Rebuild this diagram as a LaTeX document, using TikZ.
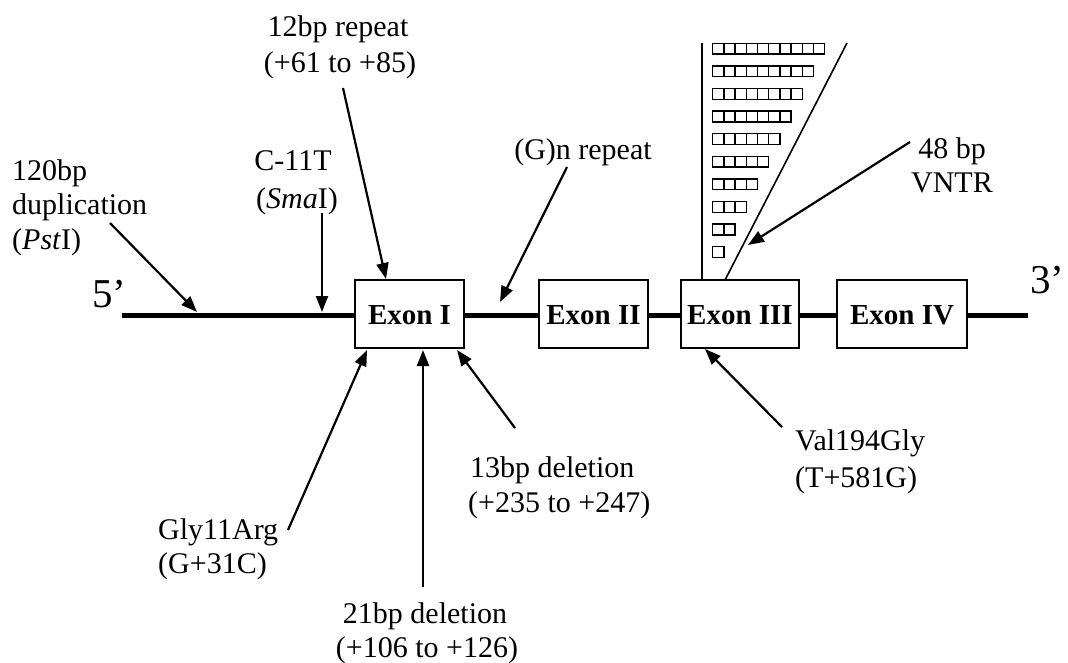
\documentclass[tikz,border=0pt]{standalone}
\usepackage{fontspec}
\setmainfont{Liberation Serif}
\usetikzlibrary{arrows.meta}
\begin{document}
\begin{tikzpicture}[x=1pt,y=-1pt,
  lbl/.style={inner sep=0pt, font=\fontsize{30}{36}\selectfont},
  endlbl/.style={inner sep=0pt, font=\fontsize{41}{48}\selectfont},
  exon/.style={draw, line width=2pt, fill=white, inner sep=0pt, minimum height=68pt, text height=20pt, text depth=0pt, font=\fontsize{29}{34}\selectfont\bfseries},
  pointer/.style={line width=2.2pt, -{Triangle[length=16pt,width=12pt]}},
  dna/.style={line width=5pt},
  thin/.style={line width=1.6pt},
  rep/.style={line width=1.4pt}]
\useasboundingbox (0,0) rectangle (1068,662);

% main DNA line
\coordinate (s5) at (122,315);
\coordinate (s3) at (1028,315);
\draw[dna] (s5) -- (s3);

% exons
\node[exon, minimum width=109pt] (ex1) at (409.5,314) {Exon I};
\node[exon, minimum width=109pt] (ex2) at (593.5,314) {Exon II};
\node[exon, minimum width=118pt] (ex3) at (740,314) {Exon III};
\node[exon, minimum width=130pt] (ex4) at (902,314) {Exon IV};

% end labels
\node[endlbl, anchor=base west] (p5) at (92,307) {5’};
\node[endlbl, anchor=base west] (p3) at (1030,293) {3’};

% VNTR wedge
\coordinate (vt) at (702,43);
\coordinate (vb) at (702,280);
\coordinate (dt) at (847,43);
\coordinate (db) at (725,280);
\draw[thin] (vt) -- (vb);
\draw[thin] (dt) -- (db);
\foreach \i in {0,...,9}{
  \pgfmathtruncatemacro\nsq{10-\i}
  \foreach \j in {1,...,\nsq}{
    \draw[rep] ({712.7+11.2*(\j-1)},{43.3+22.6*\i}) rectangle +(11.2,10.7);
  }
}

% labels
\node[lbl, anchor=base] (r12a) at (338,36) {12bp repeat};
\node[lbl, anchor=base] (r12b) at (340,72) {(+61 to +85)};

\node[lbl, anchor=base west] (dupa) at (12,180) {120bp};
\node[lbl, anchor=base west] (dupb) at (12,214) {duplication};
\node[lbl, anchor=base west] (dupc) at (12,249) {(\textit{Pst}I)};

\node[lbl, anchor=base] (cta) at (293,170) {C-11T};
\node[lbl, anchor=base] (ctb) at (297,208) {(\textit{Sma}I)};

\node[lbl, anchor=base] (gn) at (583,159) {(G)n repeat};

\node[lbl, anchor=base] (vna) at (952,158) {48 bp};
\node[lbl, anchor=base] (vnb) at (952,192) {VNTR};

\node[lbl, anchor=base west] (vala) at (795,450) {Val194Gly};
\node[lbl, anchor=base west] (valb) at (795,487) {(T+581G)};

\node[lbl, anchor=base west] (d13a) at (470,477) {13bp deletion};
\node[lbl, anchor=base west] (d13b) at (468,512) {(+235 to +247)};

\node[lbl, anchor=base west] (glya) at (158,539) {Gly11Arg};
\node[lbl, anchor=base west] (glyb) at (158,573) {(G+31C)};

\node[lbl, anchor=base] (d21a) at (425,623) {21bp deletion};
\node[lbl, anchor=base] (d21b) at (427,657) {(+106 to +126)};

% arrow end points
\coordinate (a1s) at (110,223); \coordinate (a1t) at (197,312);
\coordinate (a2s) at (322,213); \coordinate (a2t) at (322,312);
\coordinate (a3s) at (343,88);  \coordinate (a3t) at (386,279);
\coordinate (a4s) at (567,167); \coordinate (a4t) at (500,302);
\coordinate (a5s) at (910,142); \coordinate (a5t) at (748,245);
\coordinate (a6s) at (782,427); \coordinate (a6t) at (705,349);
\coordinate (a7s) at (288,530); \coordinate (a7t) at (367,350);
\coordinate (a8s) at (423,587); \coordinate (a8t) at (423,350);
\coordinate (a9s) at (515,428); \coordinate (a9t) at (457,350);

\draw[pointer] (a1s) -- (a1t);
\draw[pointer] (a2s) -- (a2t);
\draw[pointer] (a3s) -- (a3t);
\draw[pointer] (a4s) -- (a4t);
\draw[pointer] (a5s) -- (a5t);
\draw[pointer] (a6s) -- (a6t);
\draw[pointer] (a7s) -- (a7t);
\draw[pointer] (a8s) -- (a8t);
\draw[pointer] (a9s) -- (a9t);
\end{tikzpicture}
\end{document}
